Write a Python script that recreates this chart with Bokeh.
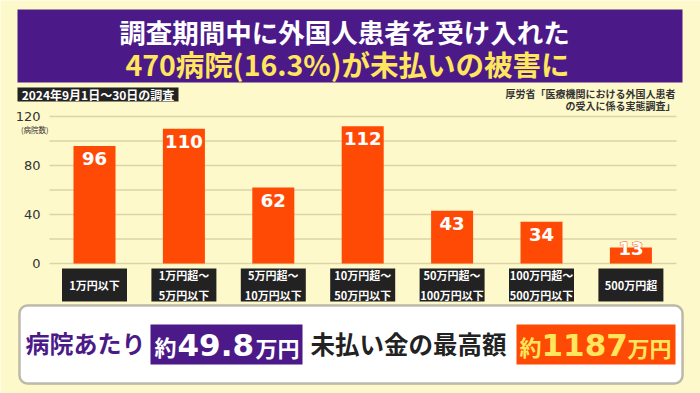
import re
from bokeh.plotting import figure
from bokeh.models import Range1d, LinearAxis, FixedTicker, BoxAnnotation
from bokeh.embed import file_html
from bokeh.resources import INLINE
from bokeh.core.properties import value

# ---------------- data ----------------
categories = ["1万円以下", "1万円超～\n5万円以下", "5万円超～\n10万円以下",
              "10万円超～\n50万円以下", "50万円超～\n100万円以下",
              "100万円超～\n500万円以下", "500万円超"]
counts = [96, 110, 62, 112, 43, 34, 13]
y_ticks = [0, 40, 80, 120]
grid_values = [0, 20, 40, 60, 80, 100, 120]
title_line1 = "調査期間中に外国人患者を受け入れた"
title_line2 = "470病院(16.3%)が未払いの被害に"
period_label = "2024年9月1日～30日の調査"
source_lines = ["厚労省「医療機関における外国人患者", "の受入に係る実態調査」"]
unit_label = "(病院数)"
banner_left = "病院あたり"
avg_parts = ["約", "49.8", "万円"]
banner_mid = "未払い金の最高額"
max_parts = ["約", "1187", "万円"]

# ---------------- styling / layout ----------------
BG = "#FEF9CB"
PURPLE = "#4B1A88"
ORANGE = "#FF4A05"
YELLOW = "#FFE65C"
DARK = "#222222"
JP = value("Noto Sans CJK JP")
NUM = value("DejaVu Sans")

W, H = 700, 393
PX_CAT = 89.4      # pixels per category
PX_UNIT = 1.225    # pixels per hospital
first_center = 94  # px of first bar centre
zero_px = 263      # px (from top) of value 0

x_start = -first_center / PX_CAT
x_end = x_start + W / PX_CAT
y_end = zero_px / PX_UNIT
y_start = y_end - H / PX_UNIT


def X(px):
    return x_start + px / PX_CAT


def Y(py):
    return y_end - py / PX_UNIT


p = figure(width=W, height=H, x_range=Range1d(x_start, x_end),
           y_range=Range1d(y_start, y_end), output_backend="svg",
           toolbar_location=None, x_axis_location=None, y_axis_location=None,
           min_border=0, background_fill_color=BG, border_fill_color=BG,
           outline_line_color=None)
for g in p.grid:
    g.visible = False

# title box
p.quad(left=X(17), right=X(682), top=Y(9), bottom=Y(82),
       fill_color=PURPLE, line_color=None)
p.text(x=[X(344)], y=[Y(31)], text=[title_line1], text_align="center",
       text_baseline="middle", text_color="white", text_font=JP,
       text_font_style="bold", text_font_size="26.5px")
p.text(x=[X(347)], y=[Y(63)], text=[title_line2], text_align="center",
       text_baseline="middle", text_color=YELLOW, text_font=JP,
       text_font_style="bold", text_font_size="28.5px")

# period label
p.quad(left=X(17), right=X(178), top=Y(87), bottom=Y(101),
       fill_color=DARK, line_color=None)
p.text(x=[X(97.5)], y=[Y(94)], text=[period_label], text_align="center",
       text_baseline="middle", text_color="white", text_font=JP,
       text_font_style="bold", text_font_size="12px")

# source
p.text(x=[X(675), X(675)], y=[Y(93), Y(105)], text=source_lines,
       text_align="right", text_baseline="middle", text_color="#333333",
       text_font=JP, text_font_style="bold", text_font_size="10px")

# unit label
p.text(x=[X(48)], y=[Y(129)], text=[unit_label], text_align="right",
       text_baseline="middle", text_color="#333333", text_font=JP,
       text_font_size="7.5px")

# grid lines
n = len(grid_values)
p.segment(x0=[X(49)] * n, x1=[X(676)] * n, y0=grid_values, y1=grid_values,
          line_color="#DAD4A6", line_width=1.6)

# y axis
yax = LinearAxis(fixed_location=X(49), ticker=FixedTicker(ticks=y_ticks),
                 axis_line_color=None, major_tick_line_color=None,
                 minor_tick_line_color=None, major_label_standoff=3,
                 major_label_text_font="DejaVu Sans",
                 major_label_text_font_size="13px",
                 major_label_text_color="#333333")
p.add_layout(yax, "left")

# bars
idx = list(range(len(categories)))
p.vbar(x=idx, top=counts, bottom=0, width=0.47, fill_color=ORANGE,
       line_color=None)
offsets = [6 if c > 20 else -6 for c in counts]
labels = [str(c) for c in counts]
# orange halo underneath, then solid white digits on top
p.text(x=idx, y=counts, text=labels, y_offset=offsets,
       text_align="center", text_baseline="top", text_color="white",
       text_outline_color=ORANGE, text_font=NUM, text_font_style="bold",
       text_font_size="18px")
p.text(x=idx, y=counts, text=labels, y_offset=offsets,
       text_align="center", text_baseline="top", text_color="white",
       text_font=NUM, text_font_style="bold", text_font_size="18px")

# category label boxes
p.rect(x=idx, y=Y(284.5), width=65 / PX_CAT, height=33 / PX_UNIT,
       fill_color=DARK, line_color=None)
p.text(x=idx, y=Y(284.5), text=categories, text_align="center",
       text_baseline="middle", text_color="white", text_font=JP,
       text_font_style="bold", text_font_size="11px", text_line_height=1.25)

# bottom banner
p.add_layout(BoxAnnotation(left=X(19), right=X(682), top=Y(305), bottom=Y(383),
                           fill_color="white", fill_alpha=1.0,
                           line_color=DARK, line_width=2.5, border_radius=8,
                           level="underlay"))
p.text(x=[X(25)], y=[Y(342)], text=[banner_left], text_align="left",
       text_baseline="middle", text_color=PURPLE, text_font=JP,
       text_font_style="bold", text_font_size="24px")
p.quad(left=X(150), right=X(302), top=Y(324), bottom=Y(364),
       fill_color=PURPLE, line_color=None)
p.text(x=[X(154)], y=[Y(345)], text=[avg_parts[0]], text_baseline="middle",
       text_color="white", text_font=JP, text_font_style="bold",
       text_font_size="22px")
p.text(x=[X(177)], y=[Y(344)], text=[avg_parts[1]], text_baseline="middle",
       text_color="white", text_font=NUM, text_font_style="bold",
       text_font_size="31px")
p.text(x=[X(255)], y=[Y(346)], text=[avg_parts[2]], text_baseline="middle",
       text_color="white", text_font=JP, text_font_style="bold",
       text_font_size="22px")
p.text(x=[X(310)], y=[Y(343)], text=[banner_mid], text_align="left",
       text_baseline="middle", text_color=DARK, text_font=JP,
       text_font_style="bold", text_font_size="24.5px")
p.quad(left=X(516), right=X(675), top=Y(324), bottom=Y(364),
       fill_color=ORANGE, line_color=None)
p.text(x=[X(519)], y=[Y(345)], text=[max_parts[0]], text_baseline="middle",
       text_color=YELLOW, text_font=JP, text_font_style="bold",
       text_font_size="22px")
p.text(x=[X(541)], y=[Y(344)], text=[max_parts[1]], text_baseline="middle",
       text_color=YELLOW, text_font=NUM, text_font_style="bold",
       text_font_size="31px")
p.text(x=[X(627)], y=[Y(346)], text=[max_parts[2]], text_baseline="middle",
       text_color=YELLOW, text_font=JP, text_font_style="bold",
       text_font_size="22px")

html = file_html(p, INLINE)
html = re.sub(r"<body([^>]*)>",
              '<body\\1 style="background-color:%s;">' % BG, html, count=1)
open("out.html", "w").write(html)
